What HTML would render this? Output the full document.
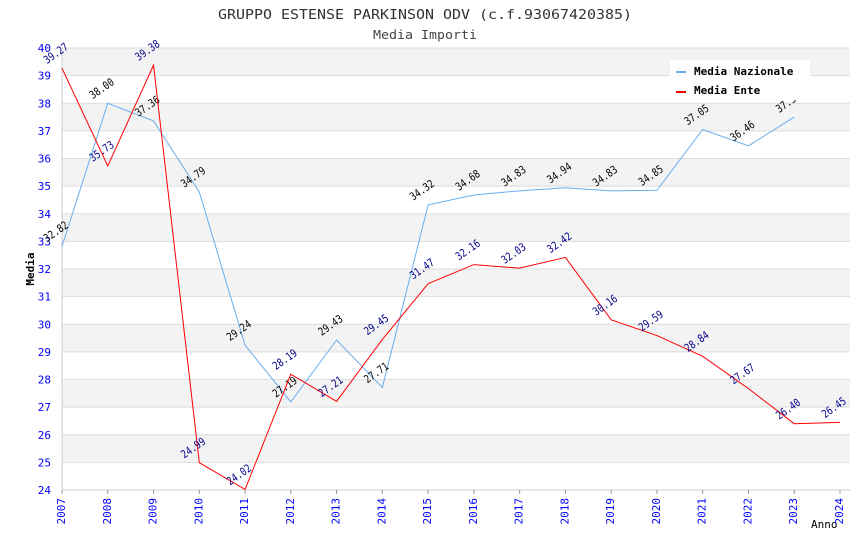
<!DOCTYPE html>
<html><head><meta charset="utf-8"><style>
body{margin:0;background:#fff}
svg{display:block;font-family:"DejaVu Sans Mono","Liberation Mono",monospace}
</style></head><body>
<svg id="chart" width="850" height="550">
<g id="bands"></g>
<text x="425" y="19" text-anchor="middle" font-size="13" fill="#333" textLength="414" lengthAdjust="spacingAndGlyphs">GRUPPO ESTENSE PARKINSON ODV (c.f.93067420385)</text>
<text x="425" y="39" text-anchor="middle" font-size="12" fill="#444" textLength="104" lengthAdjust="spacingAndGlyphs">Media Importi</text>
<text x="34" y="269" text-anchor="middle" font-size="11" font-weight="bold" fill="#000" transform="rotate(-90 34 269)">Media</text>
<text x="811" y="528" font-size="11" fill="#000">Anno</text>
<g id="axes"></g>
<g id="series"></g>
<g id="legend">
<rect x="670" y="60" width="140" height="40" fill="#fff"/>
<rect x="676" y="71" width="10" height="2" fill="#6aaeee"/>
<text x="694" y="75" font-size="11" font-weight="bold">Media Nazionale</text>
<rect x="676" y="91" width="10" height="2" fill="#f00"/>
<text x="694" y="94" font-size="11" font-weight="bold">Media Ente</text>
</g>
</svg>
<script>
const years=[2007,2008,2009,2010,2011,2012,2013,2014,2015,2016,2017,2018,2019,2020,2021,2022,2023,2024];
const nazionale=[32.82,38.00,37.36,34.79,29.24,27.19,29.43,27.71,34.32,34.68,34.83,34.94,34.83,34.85,37.05,36.46,37.50,null];
const ente=[39.27,35.73,39.38,24.99,24.02,28.19,27.21,29.45,31.47,32.16,32.03,32.42,30.16,29.59,28.84,27.67,26.40,26.45];
const yTicks=[24,25,26,27,28,29,30,31,32,33,34,35,36,37,38,39,40];
const NS="http://www.w3.org/2000/svg";
const x0=62,x1=840,yb=490,yt=48;
const xs=y=>x0+(y-years[0])/(years[years.length-1]-years[0])*(x1-x0);
const ys=v=>yb-(v-24)/(40-24)*(yb-yt);
function mk(t,a,p){const e=document.createElementNS(NS,t);for(const k in a)e.setAttribute(k,a[k]);p.appendChild(e);return e;}
const bands=document.getElementById('bands'),axes=document.getElementById('axes'),ser=document.getElementById('series');
for(let i=0;i<yTicks.length-1;i++){
 if((yTicks.length-2-i)%2===0){const r=mk('rect',{x:x0,y:ys(yTicks[i+1]),width:850-x0,height:ys(yTicks[i])-ys(yTicks[i+1]),fill:'#f3f3f3'},bands);
 
 }
}
yTicks.forEach(t=>{
 const l=mk('line',{x1:x0,x2:850,y1:ys(t),y2:ys(t),stroke:'#ddd'},axes);
 
 
 const tx=mk('text',{x:x0-11,y:ys(t)+4,'text-anchor':'end','font-size':11,fill:'#00f'},axes);tx.textContent=t;
 
 
});
mk('line',{x1:x0,x2:x0,y1:yt,y2:yb,stroke:'#ccc'},axes);
mk('line',{x1:x0,x2:850,y1:yb,y2:yb,stroke:'#ccc'},axes);
years.forEach(y=>{
 const X=xs(y);
 mk('line',{x1:X,x2:X,y1:yb,y2:yb+4,stroke:'#999'},axes);
 const tx=mk('text',{x:X,y:yb+8,'font-size':11,fill:'#00f',transform:`rotate(-90 ${X} ${yb+8})`,'text-anchor':'end','dominant-baseline':'middle'},axes);tx.textContent=y;
 
 
});
function series(vals,color,lblColor,name){
 let d='';vals.forEach((v,i)=>{if(v==null)return;d+=(d?'L':'M')+xs(years[i])+' '+ys(v);});
 const p=mk('path',{d,fill:'none',stroke:color,'stroke-width':1},ser);
 
 
 vals.forEach((v,i)=>{if(v==null)return;const X=xs(years[i])-15,Y=ys(v)-4;
  const t=mk('text',{x:X,y:Y,'font-size':11,fill:lblColor,transform:`rotate(-35 ${X} ${Y})`,textLength:27,lengthAdjust:'spacingAndGlyphs'},ser);t.textContent=v.toFixed(2);
  
  });
}
series(nazionale,'#6aaeee','#000','nazionale');
series(ente,'#f00','#00008b','ente');
</script>
</body></html>
